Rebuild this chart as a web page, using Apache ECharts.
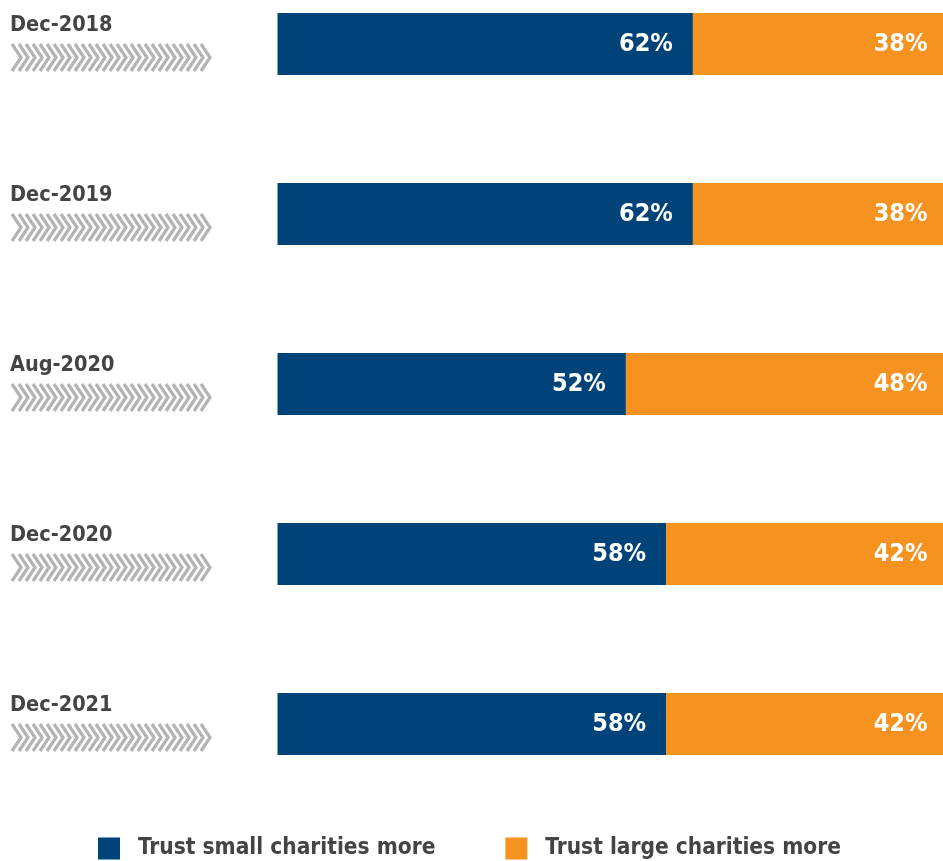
<!DOCTYPE html>
<html>
<head>
<meta charset="utf-8">
<script src="https://cdn.jsdelivr.net/npm/echarts@6/dist/echarts.min.js"></script>
<style>
  html, body { margin: 0; padding: 0; background: #fff; }
  #chart { width: 943px; height: 861px; }
</style>
</head>
<body>
<div id="chart"></div>
<script>
// Survey waves and the share trusting small vs large charities more
const waves = ['Dec-2018', 'Dec-2019', 'Aug-2020', 'Dec-2020', 'Dec-2021'];
const trustSmall = [62, 62, 52, 58, 58];
const trustLarge = [38, 38, 48, 42, 42];
const seriesNames = ['Trust small charities more', 'Trust large charities more'];

const NAVY = '#004379';
const ORANGE = '#f69220';
const LABEL_FONT = '"DejaVu Sans Condensed", "DejaVu Sans", sans-serif';

// Decorative chevron strip shown under each wave name
function chevronStrip() {
  const c = document.createElement('canvas');
  c.width = 203; c.height = 29;
  const g = c.getContext('2d');
  g.strokeStyle = '#b3b3b3';
  g.lineWidth = 3.2;
  for (let i = 0; i < 28; i++) {
    const x0 = 2 + i * 7;
    g.beginPath();
    g.moveTo(x0, 1);
    g.lineTo(x0 + 9, 14.5);
    g.lineTo(x0, 28);
    g.stroke();
  }
  return c;
}
const chevron = chevronStrip();

const chart = echarts.init(document.getElementById('chart'));

const valueLabel = {
  show: true,
  position: 'insideRight',
  offset: [-15, 0],
  color: '#ffffff',
  fontFamily: LABEL_FONT,
  fontWeight: 'bold',
  fontSize: 25,
  formatter: p => p.value + '%'
};

chart.setOption({
  animation: false,
  backgroundColor: '#ffffff',
  grid: {
    left: 277.5, width: 670, top: -41, height: 850,
    outerBoundsMode: 'none', containLabel: false
  },
  xAxis: {
    type: 'value', min: 0, max: 100,
    show: false
  },
  yAxis: {
    type: 'category',
    data: waves,
    inverse: true,
    axisLine: { show: false },
    axisTick: { show: false },
    splitLine: { show: false },
    axisLabel: {
      align: 'left',
      margin: 267.5,
      formatter: v => '{name|' + v + '}\n{gap| }\n{chev| }',
      rich: {
        name: {
          fontFamily: LABEL_FONT, fontWeight: 'bold', fontSize: 21.5,
          color: '#444444', lineHeight: 19
        },
        gap: { height: 8, lineHeight: 8, fontSize: 1 },
        chev: {
          width: 203, height: 29,
          backgroundColor: { image: chevron }
        }
      }
    }
  },
  legend: {
    left: 98, top: 837, padding: 0,
    itemWidth: 22, itemHeight: 22, itemGap: 70,
    icon: 'rect',
    data: seriesNames,
    textStyle: {
      fontFamily: LABEL_FONT, fontWeight: 'bold', fontSize: 22.5,
      color: '#444444', padding: [0, 0, 0, 13]
    }
  },
  series: [
    {
      name: seriesNames[0], type: 'bar', stack: 'trust',
      barWidth: 62, data: trustSmall, clip: false,
      itemStyle: { color: NAVY },
      label: valueLabel
    },
    {
      name: seriesNames[1], type: 'bar', stack: 'trust',
      barWidth: 62, data: trustLarge, clip: false,
      itemStyle: { color: ORANGE },
      label: valueLabel
    }
  ]
});
</script>
</body>
</html>
